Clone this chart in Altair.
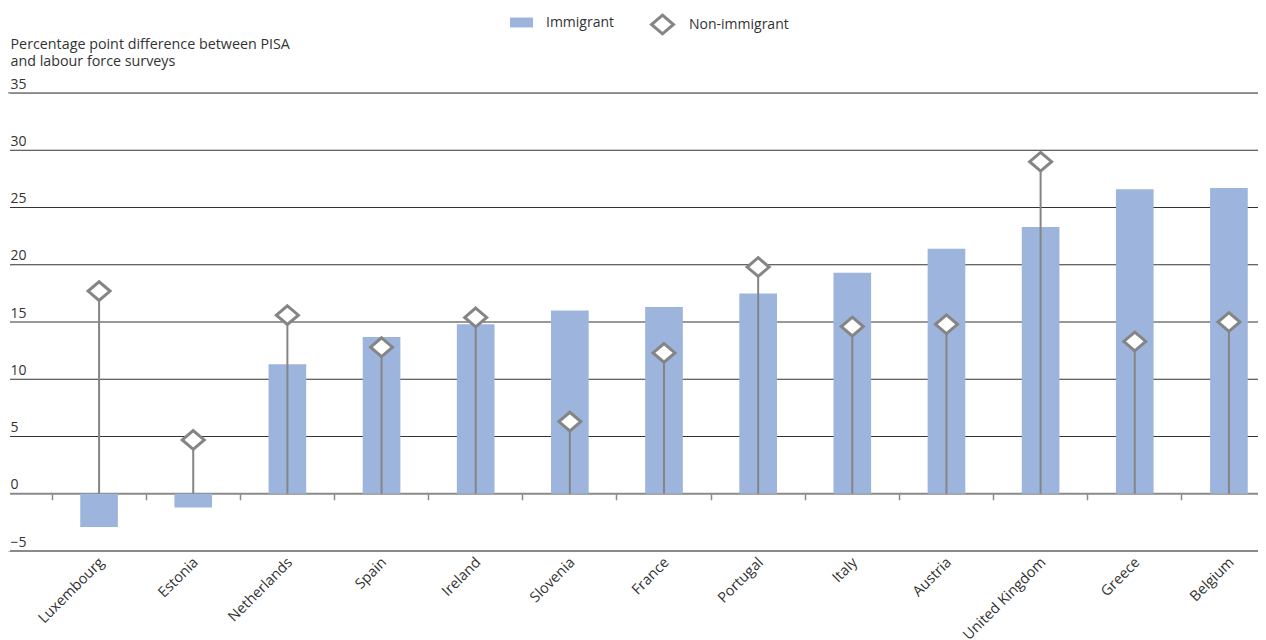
import altair as alt
import pandas as pd

countries = ["Luxembourg", "Estonia", "Netherlands", "Spain", "Ireland", "Slovenia",
             "France", "Portugal", "Italy", "Austria", "United Kingdom", "Greece", "Belgium"]
immigrant = [-2.9, -1.2, 11.3, 13.7, 14.8, 16.0, 16.3, 17.5, 19.3, 21.4, 23.3, 26.6, 26.7]
non_immigrant = [17.7, 4.7, 15.6, 12.8, 15.4, 6.3, 12.3, 19.8, 14.6, 14.8, 29.0, 13.3, 15.0]
y_ticks = [-5, 0, 5, 10, 15, 20, 25, 30, 35]
y_title = ["Percentage point difference between PISA", "and labour force surveys"]

df = pd.DataFrame({
    "country": countries,
    "Immigrant": immigrant,
    "NonImmigrant": non_immigrant,
    "s1": ["Immigrant"] * len(countries),
    "s2": ["Non-immigrant"] * len(countries),
})
grid_df = pd.DataFrame({"v": y_ticks})

FONT = "Open Sans"
TXT = "#333333"
GREY = "#858585"
W, H = 1250, 458

xscale = alt.Scale(domain=countries, range=[44, 1268], paddingInner=0, paddingOuter=0)
yscale = alt.Scale(domain=[-5, 35], nice=False, zero=False)
yaxis = alt.Axis(
    title=y_title, titleAngle=0, titleAlign="left", titleBaseline="alphabetic",
    titleX=2, titleY=-45, titleFontSize=14.3, titleFontWeight="normal", titleFont=FONT,
    titleColor=TXT, titleLineHeight=17,
    values=y_ticks, domain=True, domainColor="white", domainWidth=3, ticks=False,
    grid=False, zindex=1,
    labelAlign="left", labelPadding=-2, labelBaseline="alphabetic", labelOffset=-5,
    labelFontSize=14, labelColor=TXT, labelFont=FONT,
)

grid = alt.Chart(grid_df).mark_rule().encode(
    y=alt.Y("v:Q", scale=yscale, axis=yaxis),
    x=alt.value(0),
    x2=alt.value(W),
    color=alt.condition("datum.v <= 0", alt.value("#8a8a8a"), alt.value("#333333")),
    strokeWidth=alt.condition("datum.v <= 0", alt.value(2), alt.value(1)),
)

base = alt.Chart(df)

bars = base.mark_bar(width=alt.RelativeBandSize(0.4), color="#9db4dc").encode(
    x=alt.X("country:N", sort=countries, scale=xscale,
            axis=alt.Axis(title=None, labelAngle=-45, labelAlign="right", labelBaseline="middle",
                          labelPadding=9, labelOffset=3, ticks=False, domain=False, grid=False,
                          labelFontSize=14.5, labelColor=TXT, labelFont=FONT)),
    y=alt.Y("Immigrant:Q", scale=yscale, axis=yaxis),
    color=alt.Color("s1:N", scale=alt.Scale(domain=["Immigrant"], range=["#9db4dc"]),
                    legend=alt.Legend(title=None, orient="none", legendX=502, legendY=-82,
                                      symbolType="M-1,-0.43H1V0.43H-1Z", symbolSize=529,
                                      symbolStrokeWidth=0, labelOffset=13, padding=0,
                                      labelFontSize=14, labelColor=TXT, labelFont=FONT)),
)

stems = base.mark_rule(color=GREY, strokeWidth=2).encode(
    x=alt.X("country:N", sort=countries, scale=xscale, axis=None),
    y=alt.Y("NonImmigrant:Q", scale=yscale, axis=yaxis),
    y2=alt.datum(0),
)

DIAMOND = "M0,-0.85L1,0L0,0.85L-1,0Z"
pt_legend = alt.Legend(title=None, orient="none", legendX=642, legendY=-81,
                       symbolType=DIAMOND, symbolSize=484, symbolFillColor="white",
                       symbolStrokeWidth=3, symbolOpacity=1,
                       labelOffset=14, padding=0,
                       labelFontSize=14, labelColor=TXT, labelFont=FONT)
points = base.mark_point(filled=False, fill="white", strokeWidth=3,
                         size=484, opacity=1, fillOpacity=1).encode(
    x=alt.X("country:N", sort=countries, scale=xscale,
            axis=alt.Axis(orient="bottom", offset=-57.25, labels=False, domain=False,
                          ticks=True, tickColor="#8a8a8a", tickSize=6, tickWidth=1.5,
                          bandPosition=0, title=None, grid=False)),
    y=alt.Y("NonImmigrant:Q", scale=yscale, axis=yaxis),
    shape=alt.Shape("s2:N", scale=alt.Scale(domain=["Non-immigrant"], range=[DIAMOND]),
                    legend=pt_legend),
    stroke=alt.Stroke("s2:N", scale=alt.Scale(domain=["Non-immigrant"], range=[GREY]),
                      legend=pt_legend),
)

chart = alt.layer(grid, bars, stems, points).resolve_scale(
    x="shared", y="shared", color="independent", shape="independent", stroke="independent"
).resolve_axis(x="independent").properties(
    width=W, height=H,
    autosize=alt.AutoSizeParams(type="none"),
    padding={"left": 0, "top": 85, "right": 0, "bottom": 88},
).configure_view(stroke="transparent", strokeWidth=0).configure(background="white")

chart.save("out.html", embed_options={"renderer": "svg", "actions": False})
